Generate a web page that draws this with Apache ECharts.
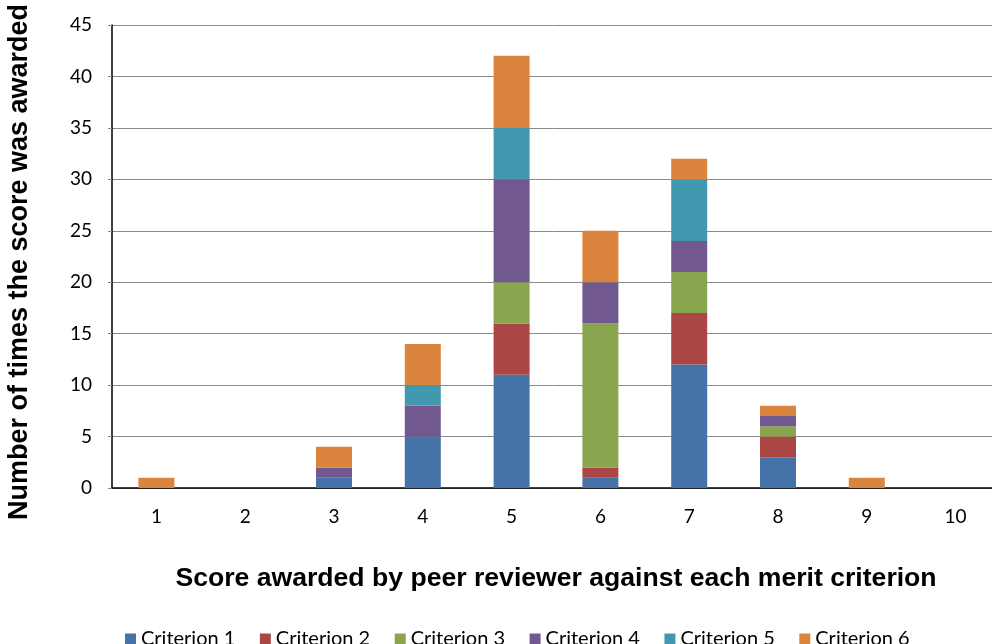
<!DOCTYPE html>
<html>
<head>
<meta charset="utf-8">
<script src="https://cdn.jsdelivr.net/npm/echarts@6/dist/echarts.min.js"></script>
<style>
  html, body { margin: 0; padding: 0; background: #ffffff; }
  #chart { width: 992px; height: 644px; }
</style>
</head>
<body>
<div id="chart"></div>
<script>
// Scores awarded (x categories) and counts per merit criterion
const scores = ['1', '2', '3', '4', '5', '6', '7', '8', '9', '10'];
const criterion1 = [0, 0, 1, 5, 11, 1, 12, 3, 0, 0];
const criterion2 = [0, 0, 0, 0, 5, 1, 5, 2, 0, 0];
const criterion3 = [0, 0, 0, 0, 4, 14, 4, 1, 0, 0];
const criterion4 = [0, 0, 1, 3, 10, 4, 3, 1, 0, 0];
const criterion5 = [0, 0, 0, 2, 5, 0, 6, 0, 0, 0];
const criterion6 = [1, 0, 2, 4, 7, 5, 2, 1, 1, 0];
const seriesNames = ['Criterion 1', 'Criterion 2', 'Criterion 3', 'Criterion 4', 'Criterion 5', 'Criterion 6'];
const yTicks = [0, 5, 10, 15, 20, 25, 30, 35, 40, 45];
const yTitle = 'Number of times the score was awarded';
const xTitle = 'Score awarded by peer reviewer against each merit criterion';

const colors = ['#4572A7', '#AA4643', '#89A54E', '#71588F', '#4198AF', '#DB843D'];
const values = [criterion1, criterion2, criterion3, criterion4, criterion5, criterion6];

const chart = echarts.init(document.getElementById('chart'), null, { renderer: 'canvas' });

chart.setOption({
  animation: false,
  color: colors,
  grid: {
    left: 112, right: -8, top: 25, bottom: 156,
    containLabel: false,
    outerBoundsMode: 'none'
  },
  legend: {
    data: seriesNames,
    left: 120,
    top: 624,
    itemWidth: 11,
    itemHeight: 11,
    itemGap: 24.5,
    icon: 'rect',
    textStyle: { fontFamily: 'Lato', fontSize: 20, color: '#000' }
  },
  // vertical axis title, placed by hand so it sits slightly below the plot centre
  graphic: [{
    type: 'text',
    x: 19.5,
    y: 262,
    rotation: Math.PI / 2,
    style: {
      text: yTitle,
      fontFamily: 'Liberation Sans',
      fontWeight: 'bold',
      fontSize: 27,
      fill: '#000',
      align: 'center',
      verticalAlign: 'middle'
    }
  }],
  xAxis: {
    type: 'category',
    data: scores,
    name: xTitle,
    nameLocation: 'middle',
    nameGap: 77,
    nameTextStyle: { fontFamily: 'Liberation Sans', fontWeight: 'bold', fontSize: 26.6, color: '#000' },
    axisLine: { lineStyle: { color: '#000', width: 1.5 } },
    axisTick: { show: false },
    axisLabel: { fontFamily: 'Lato', fontSize: 19, color: '#000', margin: 19 }
  },
  yAxis: {
    type: 'value',
    min: yTicks[0],
    max: yTicks[yTicks.length - 1],
    interval: 5,
    axisLine: { show: true, lineStyle: { color: '#000', width: 1.5 } },
    axisTick: { show: true, length: 4, lineStyle: { color: '#888' } },
    axisLabel: { fontFamily: 'Lato', fontSize: 19, color: '#000', margin: 20 },
    splitLine: { show: true, lineStyle: { color: '#8a8a8a', width: 1 } }
  },
  series: seriesNames.map((name, i) => ({
    name: name,
    type: 'bar',
    stack: 'total',
    barWidth: 36,
    data: values[i],
    itemStyle: { color: colors[i] }
  }))
});
</script>
</body>
</html>
